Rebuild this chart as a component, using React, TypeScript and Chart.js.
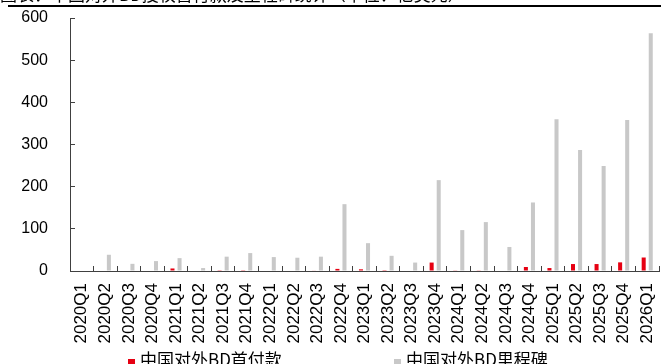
import { useEffect, useRef } from "react";
import { Chart, registerables } from "chart.js";

Chart.register(...registerables);

const categories = [
  "2020Q1", "2020Q2", "2020Q3", "2020Q4",
  "2021Q1", "2021Q2", "2021Q3", "2021Q4",
  "2022Q1", "2022Q2", "2022Q3", "2022Q4",
  "2023Q1", "2023Q2", "2023Q3", "2023Q4",
  "2024Q1", "2024Q2", "2024Q3", "2024Q4",
  "2025Q1", "2025Q2", "2025Q3", "2025Q4",
  "2026Q1",
];

const upfront = [
  0, 0, 0, 0,
  6, 0, 0.5, 0.5,
  0, 0, 1, 5,
  4, 2, 0, 20,
  0.8, 0.8, 0, 9.5,
  7, 16.5, 16.5, 20.5,
  32,
];

const milestones = [
  0, 38.5, 17, 23.5,
  30.5, 7, 34, 42.5,
  33, 31.5, 34, 158.5,
  66, 36, 20, 215.5,
  97, 116, 57, 162.5,
  360, 287, 249, 358,
  564,
];

const seriesNames = ["中国对外BD首付款", "中国对外BD里程碑"];
const yMin = 0;
const yMax = 600;
const yStep = 100;
const titleText = "图表：中国对外BD授权首付款及里程碑统计（单位：亿美元）";

const RED = "#E60012";
const GREY = "#C8C8C8";
const AXIS = "#404040";

export default function App() {
  const ref = useRef<HTMLCanvasElement>(null);

  useEffect(() => {
    document.body.style.margin = "0";
    const chart = new Chart(ref.current!, {
      type: "bar",
      data: {
        labels: categories,
        datasets: [
          {
            label: seriesNames[0],
            data: upfront,
            backgroundColor: RED,
            categoryPercentage: 0.6,
            barPercentage: 0.57,
          },
          {
            label: seriesNames[1],
            data: milestones,
            backgroundColor: GREY,
            categoryPercentage: 0.6,
            barPercentage: 0.57,
          },
        ],
      },
      options: {
        animation: false,
        responsive: false,
        devicePixelRatio: 1,
        layout: { padding: { top: 18, right: 2, left: 0, bottom: 0 } },
        plugins: {
          legend: { display: false },
          tooltip: { enabled: false },
        },
        scales: {
          x: {
            grid: {
              drawOnChartArea: false,
              tickLength: -5,
              color: AXIS,
              offset: true,
            },
            border: { color: AXIS, width: 1 },
            ticks: {
              autoSkip: false,
              minRotation: 90,
              maxRotation: 90,
              padding: 17,
              color: "#000",
              font: { family: "Liberation Sans", size: 17 },
            },
            afterFit: (s: any) => {
              s.height = 93;
              s.paddingLeft = 0;
              s.paddingRight = 0;
            },
          },
          y: {
            min: yMin,
            max: yMax,
            ticks: {
              stepSize: yStep,
              padding: 27,
              color: "#000",
              font: { family: "Liberation Sans", size: 16 },
            },
            grid: { drawOnChartArea: false, tickLength: -5, color: AXIS },
            border: { color: AXIS, width: 1 },
            afterFit: (s: any) => {
              s.width = 70;
              s.paddingTop = 8;
              s.paddingBottom = 8;
            },
          },
        },
      },
    });
    return () => chart.destroy();
  }, []);

  const legendFont = '17px "Noto Sans CJK SC", sans-serif';

  return (
    <div style={{ position: "relative", width: 661, height: 364, overflow: "hidden", background: "#fff" }}>
      <canvas ref={ref} width={661} height={364} style={{ position: "absolute", left: 0, top: 0 }} />
      <div
        style={{
          position: "absolute",
          left: 0,
          top: -15,
          font: '17px "Noto Sans CJK SC", sans-serif',
          lineHeight: "17px",
          whiteSpace: "nowrap",
          color: "#000",
        }}
      >
        {titleText}
      </div>
      <div style={{ position: "absolute", left: 8, right: 0, top: 5, height: 2, background: "#000" }} />
      <div style={{ position: "absolute", left: 128, top: 349, font: legendFont, lineHeight: "20px", whiteSpace: "nowrap", color: "#000" }}>
        <span style={{ display: "inline-block", width: 7, height: 7, background: RED, marginRight: 5 }} />
        {seriesNames[0]}
      </div>
      <div style={{ position: "absolute", left: 394, top: 349, font: legendFont, lineHeight: "20px", whiteSpace: "nowrap", color: "#000" }}>
        <span style={{ display: "inline-block", width: 7, height: 7, background: GREY, marginRight: 5 }} />
        {seriesNames[1]}
      </div>
    </div>
  );
}
